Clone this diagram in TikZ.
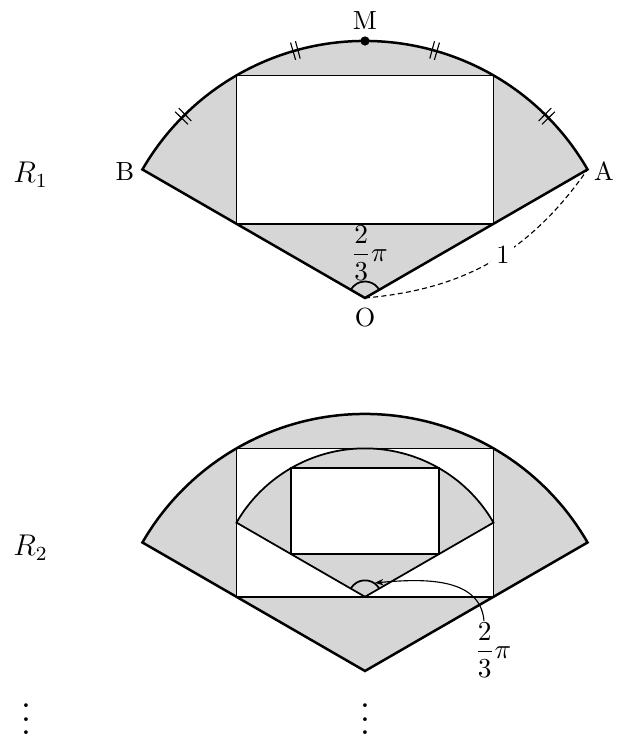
\documentclass[tikz,border=0pt]{standalone}
\usepackage{amsmath}
\usepackage{graphicx}
\usetikzlibrary{arrows.meta,calc}
\begin{document}
\begin{tikzpicture}[scale=3.6131,
  thickline/.style={line width=1pt, line join=miter},
  thinline/.style={line width=0.7pt},
  tickline/.style={line width=0.45pt},
  shadefill/.style={fill=black!16},
  lab/.style={font=\fontsize{10.5}{12.6}\selectfont, inner sep=0.5pt},
  rlab/.style={font=\large, inner sep=0pt, anchor=base west}]
\useasboundingbox (-1.4202,-1.7121) rectangle (0.9922,1.1595);
% ---------------- R1 ----------------
\coordinate (O) at (0,0);
\coordinate (A) at (30:1);
\coordinate (B) at (150:1);
\coordinate (M) at (90:1);
\coordinate (P1) at (-0.5,0.28868);
\coordinate (P2) at (0.5,0.86603);
\fill[shadefill] (O) -- (A) arc[start angle=30,end angle=150,radius=1] -- cycle;
\fill[white] (P1) rectangle (P2);
\draw[thinline] (P1) rectangle (P2);
\draw[thickline] (O) -- (A) arc[start angle=30,end angle=150,radius=1] -- cycle;
\foreach \a in {45,74.3,105.7,135}{
  \foreach \d in {-0.55,0.55}{
    \draw[tickline] (\a+\d:0.965) -- (\a+\d:1.035);
  }
}
\fill (M) circle[radius=0.018];
\draw[thinline] ($(O)+(30:0.064)$) arc[start angle=30,end angle=150,radius=0.064];
\node[lab] (ang1) at (0.0175,0.175) {$\dfrac{2}{3}\pi$};
\draw[line width=0.45pt, dash pattern=on 2pt off 1.3pt] (O) to[bend right=25]
  node[pos=0.55, fill=white, lab, inner sep=2pt] (one) {1} (A);
\node[lab, anchor=base] (Blab) at (-0.934,0.459) {B};
\node[lab, anchor=base] (Alab) at (0.930,0.459) {A};
\node[lab, anchor=base] (Olab) at (0,-0.1128) {O};
\node[lab, anchor=base] (Mlab) at (0,1.0428) {M};
\node[rlab] (R1) at (-1.3696,0.4475) {$R_1$};
% ---------------- R2 ----------------
\coordinate (O2) at (0,-1.4514);
\coordinate (A2) at ($(O2)+(30:1)$);
\coordinate (Q1) at ($(O2)+(-0.5,0.28868)$);
\coordinate (Q2) at ($(O2)+(0.5,0.86603)$);
\coordinate (V) at ($(O2)+(0,0.28868)$);
\coordinate (VA) at ($(V)+(30:0.57735)$);
\coordinate (S1) at ($(V)+(-0.28868,0.16667)$);
\coordinate (S2) at ($(V)+(0.28868,0.5)$);
\fill[shadefill] (O2) -- (A2) arc[start angle=30,end angle=150,radius=1] -- cycle;
\fill[white] (Q1) rectangle (Q2);
\fill[shadefill] (V) -- (VA) arc[start angle=30,end angle=150,radius=0.57735] -- cycle;
\fill[white] (S1) rectangle (S2);
\draw[thinline] (Q1) rectangle (Q2);
\draw[thinline] (V) -- (VA) arc[start angle=30,end angle=150,radius=0.57735] -- cycle;
\draw[thinline] (S1) rectangle (S2);
\draw[thickline] (O2) -- (A2) arc[start angle=30,end angle=150,radius=1] -- cycle;
\draw[thinline] ($(V)+(30:0.064)$) arc[start angle=30,end angle=150,radius=0.064];
\node[lab] (ang2) at (0.498,-1.3696) {$\dfrac{2}{3}\pi$};
\coordinate (L2top) at ($(ang2.north)+(-0.035,0)$);
\coordinate (Vmark) at ($(V)+(55:0.066)$);
\draw[line width=0.45pt, -{Stealth[length=3.5pt,width=2.6pt]}] (L2top) to[out=95,in=5] (Vmark);
\node[rlab] (R2) at (-1.3696,-1.0039) {$R_2$};
% ---------------- dots ----------------
\node[lab, anchor=base] (dotsL) at (-1.319,-1.700) {\scalebox{1.35}{$\vdots$}};
\node[lab, anchor=base] (dotsR) at (0,-1.700) {\scalebox{1.35}{$\vdots$}};
\end{tikzpicture}
\end{document}
